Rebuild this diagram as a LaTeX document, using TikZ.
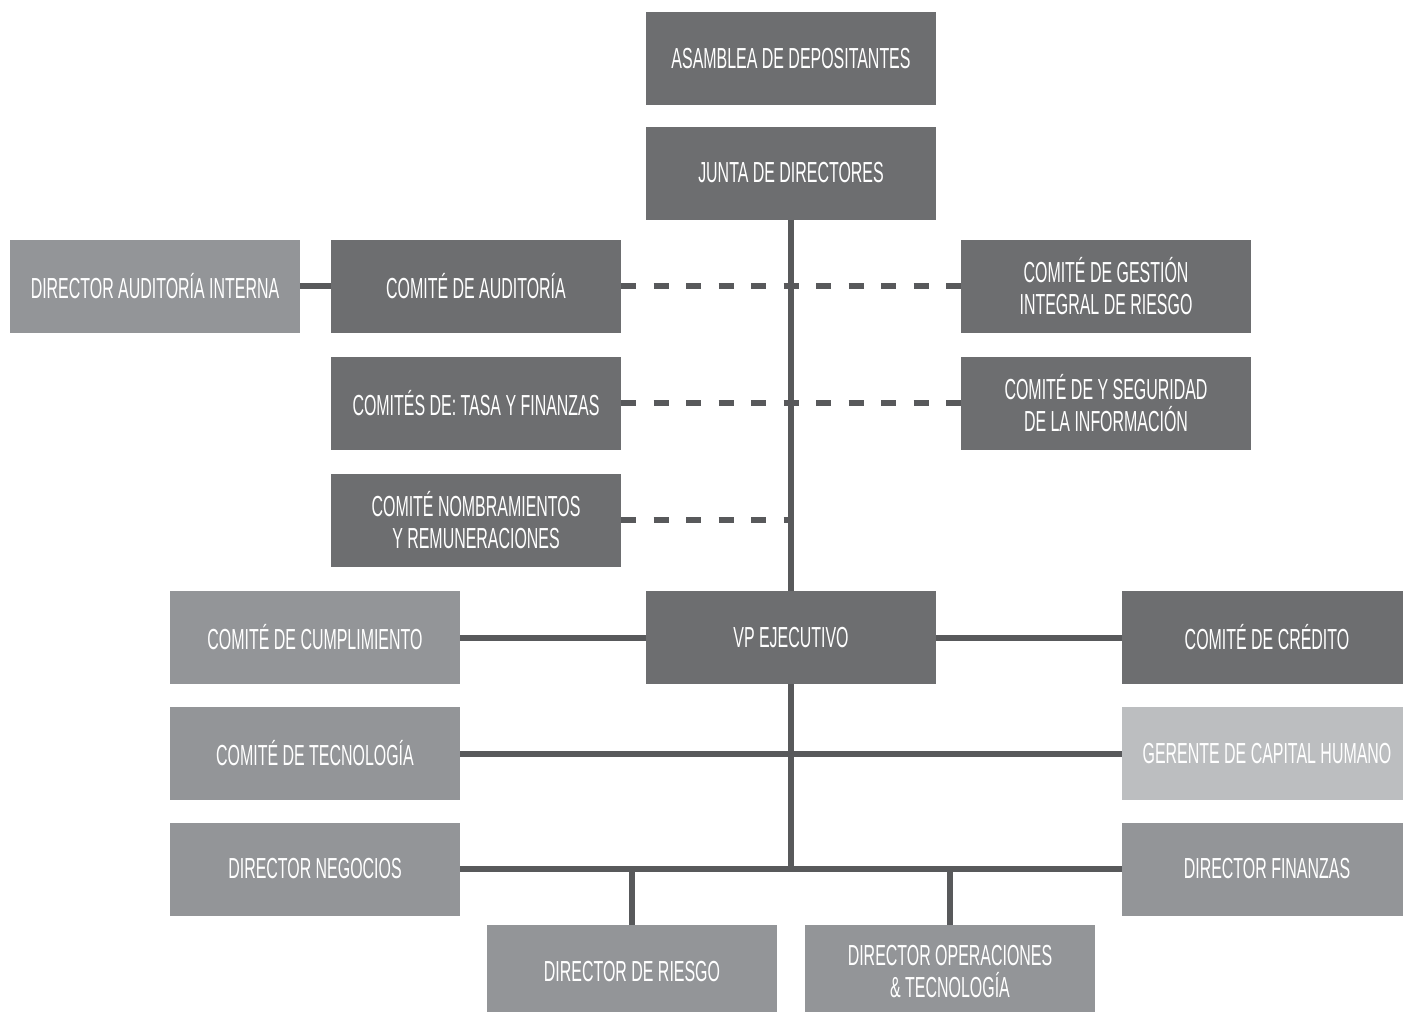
\documentclass[tikz,border=0pt]{standalone}
\usepackage{fontspec}
\setmainfont{Liberation Sans}[FakeStretch=0.55]
\definecolor{darkbox}{HTML}{6D6E70}
\definecolor{midbox}{HTML}{939598}
\definecolor{lightbox}{HTML}{BCBEC0}
\definecolor{linecol}{HTML}{58595B}
\tikzset{
  box/.style={rectangle, minimum width=290pt, minimum height=93pt, inner sep=0pt,
    text=white, align=center, font=\fontsize{29}{32}\selectfont},
  dbox/.style={box, fill=darkbox},
  mbox/.style={box, fill=midbox},
  lbox/.style={box, fill=lightbox},
  conn/.style={draw=linecol, line width=6pt},
  dconn/.style={conn, dash pattern=on 15pt off 17.5pt},
}
\begin{document}
\begin{tikzpicture}[x=1pt,y=-1pt]
\useasboundingbox (0,0) rectangle (1403,1012);
% nodes
\node[dbox] (asam) at (791,58.5) {ASAMBLEA DE DEPOSITANTES};
\node[dbox] (junta) at (791,173) {JUNTA DE DIRECTORES};
\node[mbox] (dai) at (155,286) {DIRECTOR AUDITORÍA INTERNA};
\node[dbox] (caud) at (476,286) {COMITÉ DE AUDITORÍA};
\node[dbox] (cgir) at (1106,286) {COMITÉ DE GESTIÓN\\INTEGRAL DE RIESGO};
\node[dbox] (ctasa) at (476,403) {COMITÉS DE: TASA Y FINANZAS};
\node[dbox] (cseg) at (1106,403) {COMITÉ DE Y SEGURIDAD\\DE LA INFORMACIÓN};
\node[dbox] (cnom) at (476,520) {COMITÉ NOMBRAMIENTOS\\Y REMUNERACIONES};
\node[dbox] (vp) at (791,637.5) {VP EJECUTIVO};
\node[mbox] (ccump) at (315,637.5) {COMITÉ DE CUMPLIMIENTO};
\node[dbox] (ccred) at (1267,637.5) {COMITÉ DE CRÉDITO};
\node[mbox] (ctec) at (315,753.5) {COMITÉ DE TECNOLOGÍA};
\node[lbox] (gch) at (1267,753.5) {GERENTE DE CAPITAL HUMANO};
\node[mbox] (dneg) at (315,869) {DIRECTOR NEGOCIOS};
\node[mbox] (dfin) at (1267,869) {DIRECTOR FINANZAS};
\node[mbox] (driesgo) at (632,971.5) {DIRECTOR DE RIESGO};
\node[mbox] (dops) at (950,971.5) {DIRECTOR OPERACIONES\\\&{} TECNOLOGÍA};
% coordinates
\coordinate (nomj) at (cnom.east -| junta.south);
\coordinate (bot) at (dneg.east -| vp.south);
\coordinate (rj) at (dneg.east -| driesgo.north);
\coordinate (oj) at (dneg.east -| dops.north);
% dashed connectors
\draw[dconn] (caud.east) -- (cgir.west);
\draw[dconn] (ctasa.east) -- (cseg.west);
\draw[dconn] (cnom.east) -- (nomj);
% solid connectors
\draw[conn] (junta.south) -- (vp.north);
\draw[conn] (dai.east) -- (caud.west);
\draw[conn] (ccump.east) -- (vp.west);
\draw[conn] (vp.east) -- (ccred.west);
\draw[conn] (vp.south) -- (bot);
\draw[conn] (ctec.east) -- (gch.west);
\draw[conn] (dneg.east) -- (dfin.west);
\draw[conn] (driesgo.north) -- (rj);
\draw[conn] (dops.north) -- (oj);
\end{tikzpicture}
\end{document}
